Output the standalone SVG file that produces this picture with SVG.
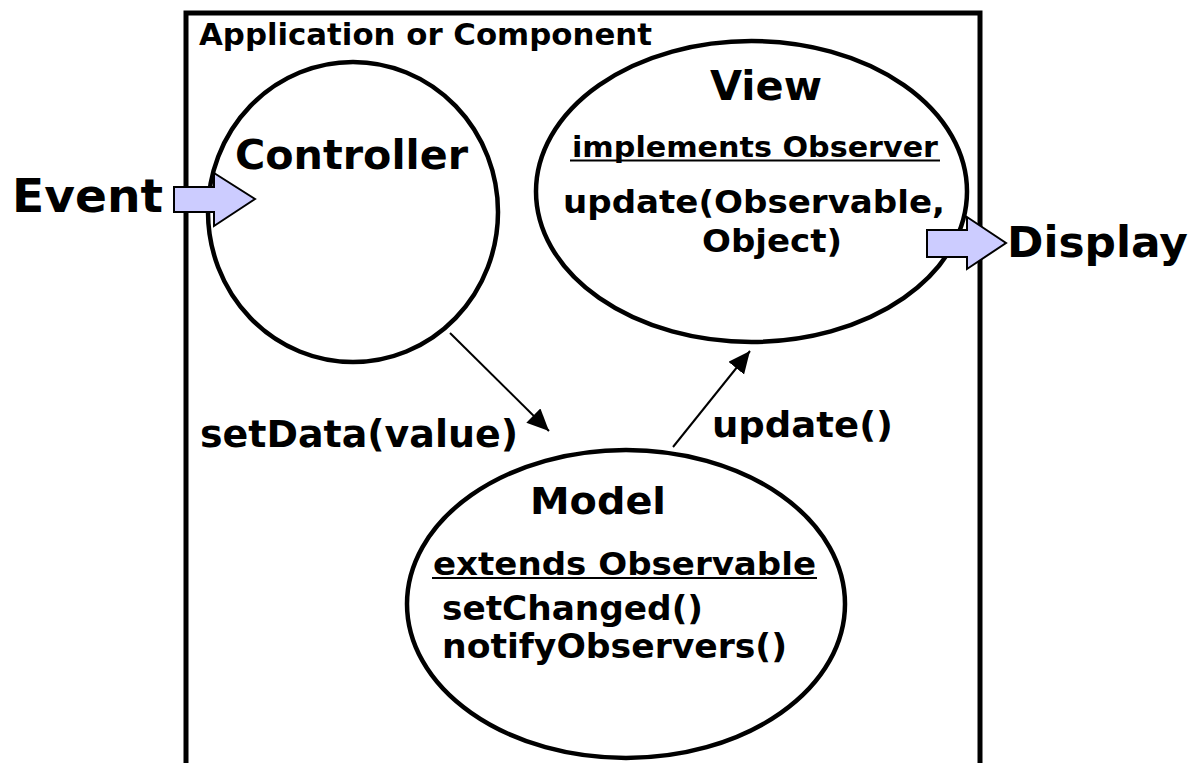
<svg xmlns="http://www.w3.org/2000/svg" width="1201" height="763" viewBox="0 0 1201 763">
<style>
.t{font-family:"DejaVu Sans","Verdana","Liberation Sans",sans-serif;font-weight:bold;fill:#000}
.c{font-family:"DejaVu Sans Condensed","DejaVu Sans","Liberation Sans Narrow",sans-serif;font-stretch:condensed;font-weight:bold;fill:#000}
.node{fill:#fff;stroke:#000;stroke-width:4.5}
.blk{fill:#ccccff;stroke:#000;stroke-width:2;stroke-linejoin:miter}
.con{stroke:#000;stroke-width:2;fill:none}
.ul{stroke:#000;stroke-width:2}
</style>
<defs>
<marker id="ah" markerUnits="userSpaceOnUse" markerWidth="24" markerHeight="22" refX="22" refY="10" orient="auto">
<path d="M0,0 L22,10 L0,20 z" fill="#000"/>
</marker>
</defs>
<rect width="1201" height="763" fill="#fff"/>
<g id="container">
<rect x="186" y="13" width="794" height="800" fill="none" stroke="#000" stroke-width="5"/>
<text class="c" x="199" y="45" font-size="30" textLength="453" lengthAdjust="spacingAndGlyphs">Application or Component</text>
</g>
<g id="controller">
<ellipse class="node" cx="353" cy="212" rx="145" ry="150"/>
<text class="t" x="235" y="169" font-size="41" textLength="233" lengthAdjust="spacingAndGlyphs">Controller</text>
</g>
<g id="view">
<ellipse class="node" cx="751.5" cy="191.5" rx="215.5" ry="150.5"/>
<text class="t" x="710" y="100" font-size="41" textLength="112" lengthAdjust="spacingAndGlyphs">View</text>
<text class="t" x="572" y="157" font-size="28" textLength="366" lengthAdjust="spacingAndGlyphs">implements Observer</text>
<line class="ul" x1="570" y1="160.5" x2="940" y2="160.5"/>
<text class="t" x="563" y="213" font-size="32" textLength="382" lengthAdjust="spacingAndGlyphs">update(Observable,</text>
<text class="t" x="702" y="252" font-size="32" textLength="140" lengthAdjust="spacingAndGlyphs">Object)</text>
</g>
<g id="model">
<ellipse class="node" cx="626" cy="604" rx="219" ry="154"/>
<text class="t" x="530" y="514" font-size="38" textLength="136" lengthAdjust="spacingAndGlyphs">Model</text>
<text class="t" x="433" y="575" font-size="32" textLength="383" lengthAdjust="spacingAndGlyphs">extends Observable</text>
<line class="ul" x1="432" y1="578" x2="817" y2="578"/>
<text class="t" x="442" y="620" font-size="33" textLength="261" lengthAdjust="spacingAndGlyphs">setChanged()</text>
<text class="t" x="442" y="658" font-size="33" textLength="345" lengthAdjust="spacingAndGlyphs">notifyObservers()</text>
</g>
<g id="connectors">
<line class="con" x1="450" y1="333" x2="549" y2="431" marker-end="url(#ah)"/>
<line class="con" x1="673" y1="447" x2="750" y2="351" marker-end="url(#ah)"/>
<text class="t" x="200" y="447" font-size="37" textLength="318" lengthAdjust="spacingAndGlyphs">setData(value)</text>
<text class="t" x="712" y="437" font-size="36" textLength="181" lengthAdjust="spacingAndGlyphs">update()</text>
</g>
<g id="event">
<polygon class="blk" points="174,187 214,187 214,173 255,199 214,226 214,212 174,212"/>
<text class="t" x="12" y="212" font-size="46" textLength="151" lengthAdjust="spacingAndGlyphs">Event</text>
</g>
<g id="display">
<polygon class="blk" points="927,230 967,230 967,217 1006,243 967,269 967,257 927,257"/>
<text class="t" x="1007" y="257" font-size="43" textLength="181" lengthAdjust="spacingAndGlyphs">Display</text>
</g>
</svg>
